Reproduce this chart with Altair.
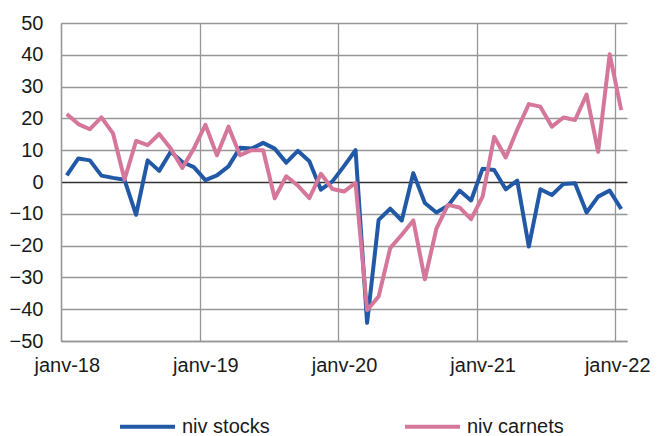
import altair as alt
import pandas as pd

# monthly values, janv-18 .. janv-22 (49 months)
stocks = [2.1, 7.4, 6.8, 2.0, 1.3, 0.7, -10.3, 6.8, 3.5, 9.5, 6.3, 4.7,
          0.6, 2.1, 4.9, 10.8, 10.5, 12.3, 10.5, 6.1, 9.8, 6.5, -2.4, 0.2,
          5.0, 10.0, -44.3, -11.9, -8.4, -12.1, 2.8, -6.6, -9.6, -7.5, -2.7, -5.8,
          4.2, 3.8, -2.3, 0.4, -20.3, -2.3, -4.1, -0.6, -0.4, -9.6, -4.6, -2.7, -8.5]
carnets = [21.4, 18.2, 16.6, 20.3, 15.3, 0.8, 12.9, 11.6, 15.1, 10.5, 4.4, 10.5,
           18.0, 8.4, 17.4, 8.4, 10.0, 10.0, -5.1, 1.8, -1.1, -5.1, 2.6, -2.2,
           -3.0, -0.3, -40.3, -36.0, -20.8, -16.6, -12.1, -30.6, -14.7, -7.2, -8.0, -11.7,
           -4.6, 14.2, 7.7, 16.5, 24.5, 23.7, 17.4, 20.3, 19.5, 27.5, 9.5, 40.2, 22.6]
year_labels = ["janv-18", "janv-19", "janv-20", "janv-21", "janv-22"]
series_names = ["niv stocks", "niv carnets"]
colors = ["#2159A6", "#D5769B"]

rows = []
for name, vals in zip(series_names, [stocks, carnets]):
    for i, v in enumerate(vals):
        rows.append({"m": i, "value": v, "series": name})
df = pd.DataFrame(rows)

W, H = 566, 318
n = len(stocks)
half = W / n / 2

label_arr = "[" + ",".join("'%s'" % s for s in year_labels) + "]"

color = alt.Color(
    "series:N",
    scale=alt.Scale(domain=series_names, range=colors),
    legend=alt.Legend(
        title=None, orient="none", direction="horizontal",
        legendX=57, legendY=374, padding=0,
        symbolType="stroke", symbolSize=55 * 55, symbolStrokeWidth=4,
        labelFontSize=20, labelFont="Liberation Sans", labelColor="#1a1a1a",
        labelOffset=5, columnPadding=127,
    ),
)

x = alt.X(
    "m:Q",
    scale=alt.Scale(domain=[-0.5, n - 0.5], nice=False, zero=False),
    axis=alt.Axis(
        title=None,
        values=[-0.5 + 12 * k for k in range(len(year_labels))],
        labelExpr=label_arr + "[round((datum.value + 0.5) / 12)]",
        labelOffset=alt.condition("datum.value > 40", alt.value(half - 4), alt.value(half)),
        labelFlush=False, labelOverlap=False, labelBound=False,
        ticks=False, tickSize=0, labelPadding=14,
        grid=True, gridColor="#969696", gridWidth=1.3,
        domainColor="#969696", domainWidth=1.3,
        labelFontSize=20, labelFont="Liberation Sans", labelColor="#1a1a1a",
    ),
)
y = alt.Y(
    "value:Q",
    scale=alt.Scale(domain=[-50, 50], nice=False),
    axis=alt.Axis(
        title=None, values=list(range(-50, 51, 10)),
        ticks=False, tickSize=0, labelPadding=18,
        grid=True, gridWidth=1.3,
        gridColor=alt.condition("datum.value === 0", alt.value("#333333"), alt.value("#969696")),
        domainColor="#969696", domainWidth=1.3,
        labelFontSize=20, labelFont="Liberation Sans", labelColor="#1a1a1a",
    ),
)

base = alt.Chart(df)
l1 = base.transform_filter(alt.datum.series == "niv stocks").mark_line(strokeWidth=4, strokeJoin="round").encode(x=x, y=y, color=color)
l2 = base.transform_filter(alt.datum.series == "niv carnets").mark_line(strokeWidth=4, strokeJoin="round").encode(x=x, y=y, color=color)

chart = alt.layer(l1, l2).properties(
    width=W, height=H,
    autosize=alt.AutoSizeParams(type="none"),
    padding={"left": 53, "top": 15, "right": 25, "bottom": 95},
).configure(background="white").configure_view(stroke=None)

chart.save("out.html", embed_options={"renderer": "svg", "actions": False})
